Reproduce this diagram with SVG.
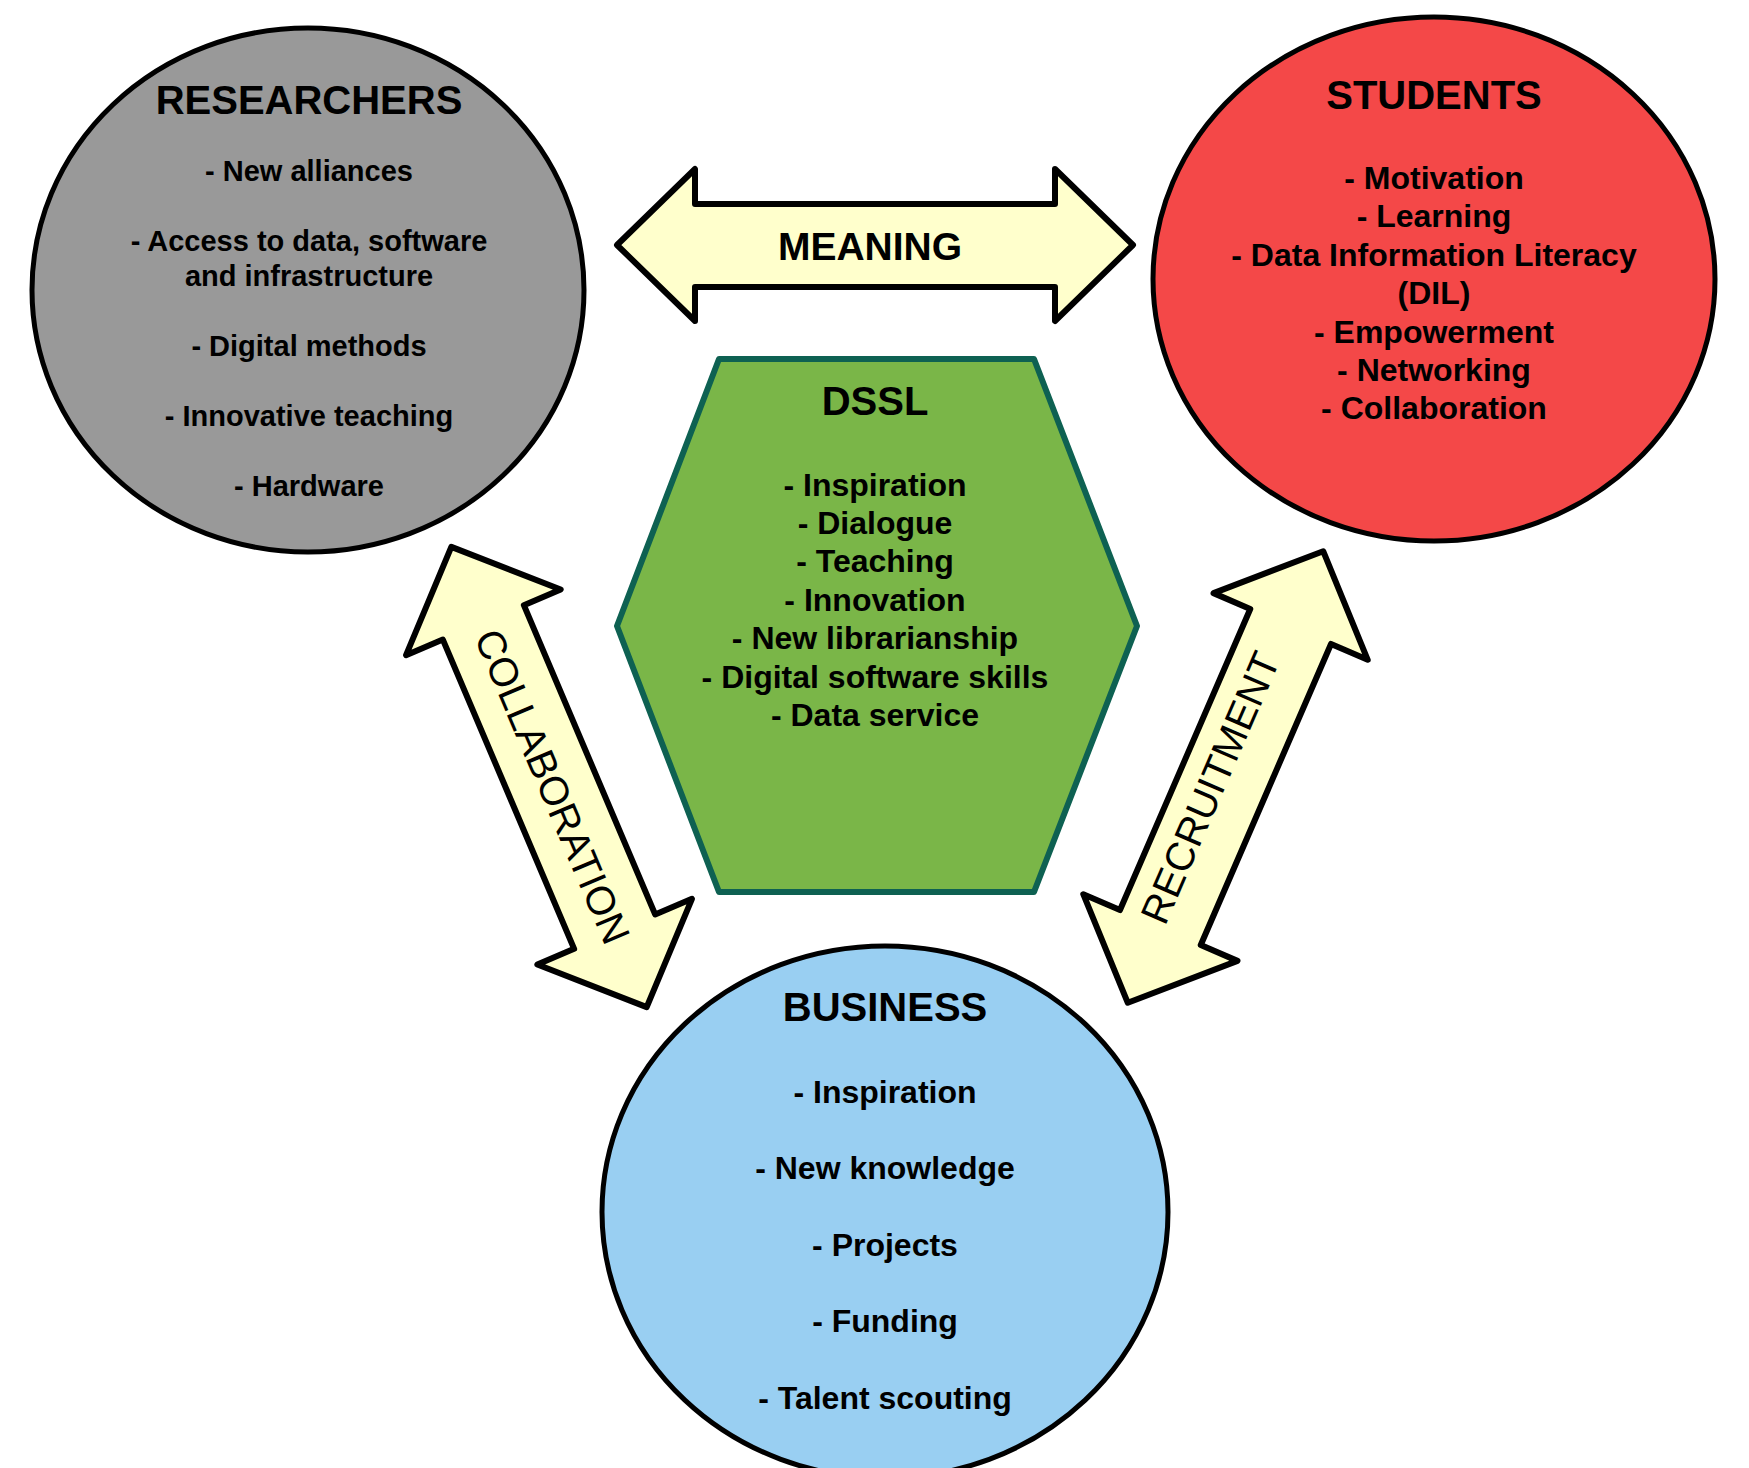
<svg xmlns="http://www.w3.org/2000/svg" width="1749" height="1468" viewBox="0 0 1749 1468">
<defs>
<style>
.node{stroke:#000;stroke-width:5}
.t{font-family:"Liberation Sans",Arial,sans-serif;font-weight:bold;text-anchor:middle;fill:#000}
.title{font-size:40px}
.item{font-size:32px}
.sm{font-size:29px}
.arrow{fill:#ffffcc;stroke:#000;stroke-width:6;stroke-linejoin:round}
.al{font-family:"Liberation Sans",Arial,sans-serif;text-anchor:middle;fill:#000;font-size:40px}
</style>
<path id="arr" d="M-246,0 L-164,-84 L-164,-44 L164,-44 L164,-84 L246,0 L164,84 L164,44 L-164,44 L-164,84 Z"/>
<path id="arr2" d="M-250,0 L-168,-84 L-168,-44 L168,-44 L168,-84 L250,0 L168,84 L168,44 L-168,44 L-168,84 Z"/>
</defs>
<rect width="1749" height="1468" fill="#fff"/>
<g id="connectors">
<g id="meaning">
<path class="arrow" d="M617,245 L695,169 L695,204 L1055,204 L1055,169 L1133,245 L1055,321 L1055,287 L695,287 L695,321 Z"/>
<text class="t" x="870" y="260" font-size="39">MEANING</text>
</g>
<g id="collaboration" transform="translate(549,777) rotate(67)">
<use href="#arr2" class="arrow"/>
<text class="al" x="10" y="14.5">COLLABORATION</text>
</g>
<g id="recruitment" transform="translate(1225.5,777) rotate(-66.6)">
<use href="#arr" class="arrow"/>
<text class="al" x="-16" y="4">RECRUITMENT</text>
</g>
</g>
<g id="researchers">
<ellipse class="node" cx="308" cy="290" rx="276" ry="262" fill="#999999"/>
<text class="t title" x="309" y="114">RESEARCHERS</text>
<text class="t sm" x="309" y="181">- New alliances</text>
<text class="t sm" x="309" y="251">- Access to data, software</text>
<text class="t sm" x="309" y="286">and infrastructure</text>
<text class="t sm" x="309" y="356">- Digital methods</text>
<text class="t sm" x="309" y="426">- Innovative teaching</text>
<text class="t sm" x="309" y="496">- Hardware</text>
</g>
<g id="students">
<ellipse class="node" cx="1434" cy="279" rx="281" ry="262" fill="#f44848"/>
<text class="t title" x="1434" y="109">STUDENTS</text>
<text class="t item" x="1434" y="189">- Motivation</text>
<text class="t item" x="1434" y="227.4">- Learning</text>
<text class="t item" x="1434" y="265.8">- Data Information Literacy</text>
<text class="t item" x="1434" y="304.2">(DIL)</text>
<text class="t item" x="1434" y="342.6">- Empowerment</text>
<text class="t item" x="1434" y="381">- Networking</text>
<text class="t item" x="1434" y="419.4">- Collaboration</text>
</g>
<g id="dssl">
<path d="M719,359 L1034,359 L1137,626 L1034,892 L719,892 L617,626 Z" fill="#7ab648" stroke="#0e6152" stroke-width="6" stroke-linejoin="round"/>
<text class="t title" x="875" y="415">DSSL</text>
<text class="t item" x="875" y="495.6">- Inspiration</text>
<text class="t item" x="875" y="534">- Dialogue</text>
<text class="t item" x="875" y="572.4">- Teaching</text>
<text class="t item" x="875" y="610.8">- Innovation</text>
<text class="t item" x="875" y="649.2">- New librarianship</text>
<text class="t item" x="875" y="687.6">- Digital software skills</text>
<text class="t item" x="875" y="726">- Data service</text>
</g>
<g id="business">
<ellipse class="node" cx="885" cy="1212" rx="283" ry="266" fill="#99cff2"/>
<text class="t title" x="885" y="1021">BUSINESS</text>
<text class="t item" x="885" y="1102.5">- Inspiration</text>
<text class="t item" x="885" y="1179">- New knowledge</text>
<text class="t item" x="885" y="1255.5">- Projects</text>
<text class="t item" x="885" y="1332">- Funding</text>
<text class="t item" x="885" y="1408.5">- Talent scouting</text>
</g>
</svg>
